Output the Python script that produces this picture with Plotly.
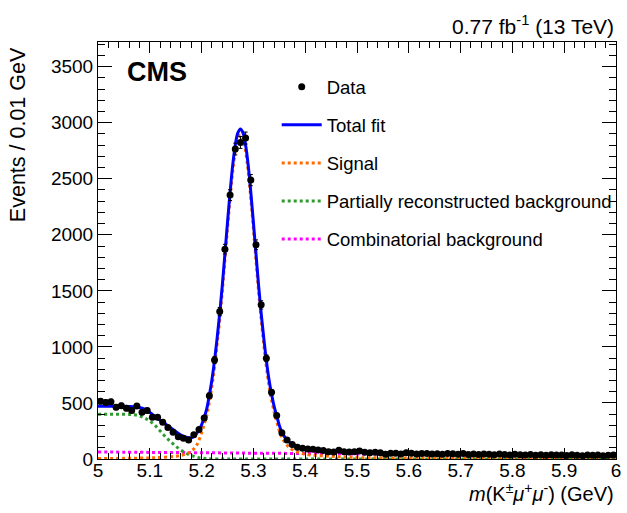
import numpy as np
import plotly.graph_objects as go

# ---------------- data ----------------
bin_centers = np.round(np.arange(5.005, 6.0, 0.01), 3)
data_counts = [
    515, 505, 510, 461, 476, 452, 432, 473, 417, 432,
    372, 372, 328, 280, 238, 199, 185, 170, 217, 263,
    366, 565, 884, 1315, 1872, 2354, 2765, 2824, 2863, 2488,
    1911, 1375, 899, 595, 387, 235, 170, 130, 104, 95,
    89, 87, 80, 75, 65, 62, 77, 65, 62, 65,
    72, 60, 55, 60, 55, 42, 52, 52, 45, 55,
    52, 45, 48, 50, 44, 47, 42, 50, 46, 43,
    48, 41, 44, 40, 45, 42, 38, 44, 40, 36,
    42, 39, 35, 40, 33, 37, 34, 39, 35, 36,
    32, 38, 34, 30, 36, 33, 35, 30, 34, 36,
]

# total fit
total_x = [5.00, 5.02, 5.04, 5.06, 5.08, 5.09, 5.10, 5.11, 5.12, 5.13, 5.14, 5.15,
           5.16, 5.17, 5.18, 5.185, 5.19, 5.195, 5.20, 5.205, 5.21, 5.215, 5.22,
           5.225, 5.23, 5.235, 5.24, 5.245, 5.25, 5.255, 5.26, 5.265, 5.27, 5.275,
           5.28, 5.285, 5.29, 5.295, 5.30, 5.305, 5.31, 5.315, 5.32, 5.325, 5.33,
           5.335, 5.34, 5.345, 5.35, 5.355, 5.36, 5.365, 5.37, 5.38, 5.39, 5.40,
           5.45, 5.50, 5.55, 5.60, 5.70, 5.80, 5.90, 6.00]
total_y = [470, 470, 470, 468, 460, 445, 415, 380, 345, 312, 278, 245,
           214, 194, 190, 200, 225, 260, 305, 370, 450, 570, 710,
           880, 1080, 1300, 1550, 1830, 2110, 2380, 2620, 2800, 2910, 2945,
           2910, 2800, 2620, 2380, 2110, 1830, 1550, 1300, 1080, 880, 712,
           580, 470, 385, 300, 240, 200, 170, 148, 122, 104, 92,
           72, 60, 55, 52, 47, 42, 38, 34]

# signal (orange dotted)
signal_x = [5.00, 5.05, 5.10, 5.13, 5.15, 5.16, 5.17, 5.18, 5.19, 5.20, 5.205, 5.21,
            5.215, 5.22, 5.225, 5.23, 5.235, 5.24, 5.245, 5.25, 5.255, 5.26, 5.265,
            5.27, 5.275, 5.28, 5.285, 5.29, 5.295, 5.30, 5.305, 5.31, 5.315, 5.32,
            5.325, 5.33, 5.335, 5.34, 5.345, 5.35, 5.355, 5.36, 5.365, 5.37, 5.38,
            5.39, 5.40, 5.45, 5.50, 5.60, 5.70, 5.80, 5.90, 6.00]
signal_y = [4, 6, 10, 16, 24, 32, 45, 70, 120, 235, 310, 390,
            510, 650, 822, 1025, 1245, 1495, 1775, 2055, 2325, 2565, 2745,
            2855, 2890, 2855, 2745, 2565, 2325, 2055, 1775, 1495, 1245, 1025,
            825, 657, 528, 420, 335, 252, 192, 152, 122, 98, 72,
            55, 42, 24, 13, 9, 7, 6, 5, 4]

# partially reconstructed background (green dotted)
partial_x = [5.00, 5.02, 5.04, 5.06, 5.07, 5.08, 5.09, 5.10, 5.11, 5.12, 5.13,
             5.14, 5.15, 5.16, 5.17, 5.18, 5.19, 5.20, 5.21, 5.22, 5.25, 6.00]
partial_y = [400, 400, 400, 398, 395, 385, 366, 338, 300, 250, 200,
             155, 115, 80, 52, 32, 17, 8, 3, 1, 0, 0]

# combinatorial background (magenta dotted)
comb_x = [5.0, 5.1, 5.2, 5.3, 5.4, 5.5, 5.6, 5.7, 5.8, 5.9, 6.0]
comb_y = [63, 59, 56, 52, 49, 45, 42, 39, 36, 33, 30]

x_ticks = [5.0, 5.1, 5.2, 5.3, 5.4, 5.5, 5.6, 5.7, 5.8, 5.9, 6.0]
x_ticklabels = ["5", "5.1", "5.2", "5.3", "5.4", "5.5", "5.6", "5.7", "5.8", "5.9", "6"]
y_ticks = [0, 500, 1000, 1500, 2000, 2500, 3000, 3500]

FONT = "Liberation Sans, Arial, sans-serif"

fig = go.Figure()

fig.add_trace(go.Scatter(
    x=comb_x, y=comb_y, mode="lines", name="Combinatorial background",
    line=dict(color="#ff00ff", width=3, dash="dot", shape="spline"),
    legendgroup="e", legendrank=5))
fig.add_trace(go.Scatter(
    x=partial_x, y=partial_y, mode="lines", name="Partially reconstructed background",
    line=dict(color="#2f9a2f", width=3, dash="dot", shape="spline"),
    legendgroup="d", legendrank=4))
fig.add_trace(go.Scatter(
    x=signal_x, y=signal_y, mode="lines", name="Signal",
    line=dict(color="#ff6a00", width=3, dash="dot", shape="spline"),
    legendgroup="c", legendrank=3))
fig.add_trace(go.Scatter(
    x=total_x, y=total_y, mode="lines", name="Total fit",
    line=dict(color="#0000ff", width=3, shape="spline"),
    legendgroup="b", legendrank=2))
fig.add_trace(go.Scatter(
    x=bin_centers, y=data_counts, mode="markers", name="Data",
    marker=dict(color="black", size=7),
    error_y=dict(type="sqrt", color="black", thickness=1, width=2),
    legendgroup="a", legendrank=1))

fig.update_layout(
    width=627, height=513,
    margin=dict(l=98, r=6, t=42, b=54),
    paper_bgcolor="white", plot_bgcolor="white",
    font=dict(family=FONT, size=18, color="black"),
    showlegend=True,
    legend=dict(x=0.345, y=0.937, xanchor="left", yanchor="top",
                bgcolor="rgba(0,0,0,0)", font=dict(size=18.5, family=FONT),
                traceorder="grouped", tracegroupgap=11, itemwidth=40),
    xaxis=dict(range=[5.0, 6.0], tickvals=x_ticks, ticktext=x_ticklabels,
               showline=True, linecolor="black", linewidth=1, mirror="ticks",
               ticks="inside", ticklen=11, tickcolor="black", showgrid=False,
               zeroline=False, tickfont=dict(size=19, family=FONT),
               ticklabelstandoff=-6,
               minor=dict(dtick=0.02, ticks="inside", ticklen=6, tickcolor="black",
                          showgrid=False)),
    yaxis=dict(range=[0, 3720], tickvals=y_ticks,
               showline=True, linecolor="black", linewidth=1, mirror="ticks",
               ticks="inside", ticklen=14, tickcolor="black", showgrid=False,
               zeroline=False, tickfont=dict(size=19, family=FONT),
               minor=dict(dtick=100, ticks="inside", ticklen=7, tickcolor="black",
                          showgrid=False)),
    annotations=[
        dict(text="<b>CMS</b>", x=0.052, y=0.928, xref="paper", yref="paper",
             xanchor="left", yanchor="middle", showarrow=False,
             font=dict(size=27, family=FONT)),
        dict(text="0.77 fb<sup>-1</sup> (13 TeV)", x=1.0, y=1.041, xref="paper",
             yref="paper", xanchor="right", yanchor="middle", showarrow=False,
             font=dict(size=21, family=FONT)),
        dict(text="Events / 0.01 GeV", x=-0.153, y=0.993, xref="paper", yref="paper",
             xanchor="center", yanchor="top", textangle=-90, showarrow=False,
             font=dict(size=21.5, family=FONT)),
        dict(text="<i>m</i>(K<sup>±</sup><i>μ</i><sup>+</sup><i>μ</i><sup>-</sup>) (GeV)",
             x=1.0, y=-0.081, xref="paper", yref="paper", xanchor="right",
             yanchor="middle", showarrow=False, font=dict(size=20, family=FONT)),
    ],
)

fig.write_html("out.html",
               config={"displayModeBar": False},
               post_script="document.body.style.margin='0px';"
                           "document.body.style.overflow='hidden';")
